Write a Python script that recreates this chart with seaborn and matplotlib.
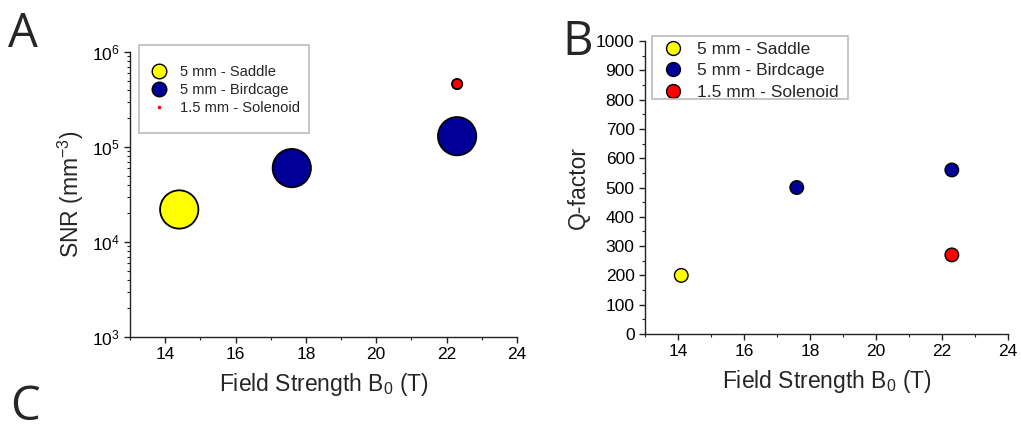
import matplotlib
matplotlib.use("Agg")
import matplotlib.pyplot as plt
from matplotlib.lines import Line2D
from matplotlib.patches import Rectangle
from matplotlib.ticker import MultipleLocator, LogLocator, NullFormatter
import seaborn as sns
import pandas as pd

# data
coils = ["5 mm - Saddle", "5 mm - Birdcage", "5 mm - Birdcage", "1.5 mm - Solenoid"]
snr_field = [14.4, 17.6, 22.3, 22.3]
snr_values = [2.2e4, 6.0e4, 1.3e5, 4.6e5]
q_field = [14.1, 17.6, 22.3, 22.3]
q_values = [200, 500, 560, 270]

coil_order = ["5 mm - Saddle", "5 mm - Birdcage", "1.5 mm - Solenoid"]
coil_colors = {"5 mm - Saddle": "#ffff00",
               "5 mm - Birdcage": "#000099",
               "1.5 mm - Solenoid": "#ff0000"}
snr_sizes = {"5 mm - Saddle": 760, "5 mm - Birdcage": 760, "1.5 mm - Solenoid": 55}

df_snr = pd.DataFrame({"coil": coils, "B0": snr_field, "SNR": snr_values})
df_q = pd.DataFrame({"coil": coils, "B0": q_field, "Q": q_values})

sns.set_style("ticks")
plt.rcParams["font.family"] = ["Liberation Sans", "DejaVu Sans"]
plt.rcParams["mathtext.fontset"] = "custom"
plt.rcParams["mathtext.rm"] = "Liberation Sans"
plt.rcParams["mathtext.it"] = "Liberation Sans"
plt.rcParams["axes.linewidth"] = 1.0
plt.rcParams["axes.edgecolor"] = "#222222"

fig = plt.figure(figsize=(10.21, 4.32), dpi=100)
ax1 = fig.add_axes([0.1273, 0.2199, 0.379, 0.6597])
ax2 = fig.add_axes([0.6317, 0.2269, 0.3555, 0.678])

# Panel A: SNR
sns.scatterplot(data=df_snr, x="B0", y="SNR", hue="coil", size="coil",
                hue_order=coil_order, size_order=coil_order,
                palette=coil_colors, sizes=snr_sizes,
                edgecolor="black", linewidth=1.3, legend=False, ax=ax1, zorder=3)
ax1.set_yscale("log")
ax1.set_xlim(13, 24)
ax1.set_ylim(1e3, 1e6)
ax1.xaxis.set_major_locator(MultipleLocator(2))
ax1.xaxis.set_minor_locator(MultipleLocator(1))
ax1.yaxis.set_major_locator(LogLocator(base=10, numticks=10))
ax1.yaxis.set_minor_locator(LogLocator(base=10, subs=range(2, 10), numticks=20))
ax1.yaxis.set_minor_formatter(NullFormatter())
ax1.set_xlabel(r"Field Strength B$_0$ (T)", fontsize=16.5, labelpad=6)
ax1.set_ylabel(r"SNR (mm$^{-3}$)", fontsize=16.5, labelpad=4)

handles_a = [Line2D([], [], marker="o", ls="", markerfacecolor=coil_colors[c],
                    markeredgecolor="black", markeredgewidth=mew, markersize=ms)
             for c, ms, mew in zip(coil_order, [10.5, 10.5, 2.6], [1.0, 1.0, 0.0])]
ax1.legend(handles_a, coil_order, loc="upper left", bbox_to_anchor=(0.052, 0.955),
           fontsize=10.6, frameon=False, handletextpad=0.84, labelspacing=0.28,
           borderpad=0, borderaxespad=0, handlelength=1.2)
fig.add_artist(Rectangle((0.1361, 0.6921), 0.1665, 0.2037, transform=fig.transFigure,
                         facecolor="none", edgecolor="#bbbbbb", linewidth=1.2))

# Panel B: Q-factor
sns.scatterplot(data=df_q, x="B0", y="Q", hue="coil", hue_order=coil_order,
                palette=coil_colors, s=95, edgecolor="black", linewidth=1.0,
                legend=False, ax=ax2, zorder=3)
ax2.set_xlim(13, 24)
ax2.set_ylim(0, 1000)
ax2.xaxis.set_major_locator(MultipleLocator(2))
ax2.xaxis.set_minor_locator(MultipleLocator(1))
ax2.yaxis.set_major_locator(MultipleLocator(100))
ax2.yaxis.set_minor_locator(MultipleLocator(50))
ax2.set_xlabel(r"Field Strength B$_0$ (T)", fontsize=16.5, labelpad=6)
ax2.set_ylabel("Q-factor", fontsize=16.5, labelpad=4)

handles_b = [Line2D([], [], marker="o", ls="", markerfacecolor=coil_colors[c],
                    markeredgecolor="black", markeredgewidth=1.0, markersize=10)
             for c in coil_order]
ax2.legend(handles_b, coil_order, loc="upper left", bbox_to_anchor=(0.041, 0.998),
           fontsize=12.5, frameon=False, handletextpad=0.63, labelspacing=0.36,
           borderpad=0, borderaxespad=0, handlelength=1.5)
fig.add_artist(Rectangle((0.6386, 0.7708), 0.192, 0.1458, transform=fig.transFigure,
                         facecolor="none", edgecolor="#bbbbbb", linewidth=1.2))

for ax in (ax1, ax2):
    sns.despine(ax=ax)
    ax.tick_params(axis="both", which="major", direction="out", length=4, width=1,
                   labelsize=12.5, colors="#222222", labelcolor="black")
    ax.tick_params(axis="both", which="minor", direction="out", length=2.5, width=0.8,
                   colors="#222222")

# panel letters
letter_font = ["Open Sans", "DejaVu Sans"]
fig.text(0.008, 0.975, "A", fontsize=34, va="top", ha="left", family=letter_font)
fig.text(0.551, 0.958, "B", fontsize=34, va="top", ha="left", family=letter_font)
fig.text(0.010, 0.002, "C", fontsize=34, va="bottom", ha="left", family=letter_font)

fig.savefig("out.png", dpi=100)
